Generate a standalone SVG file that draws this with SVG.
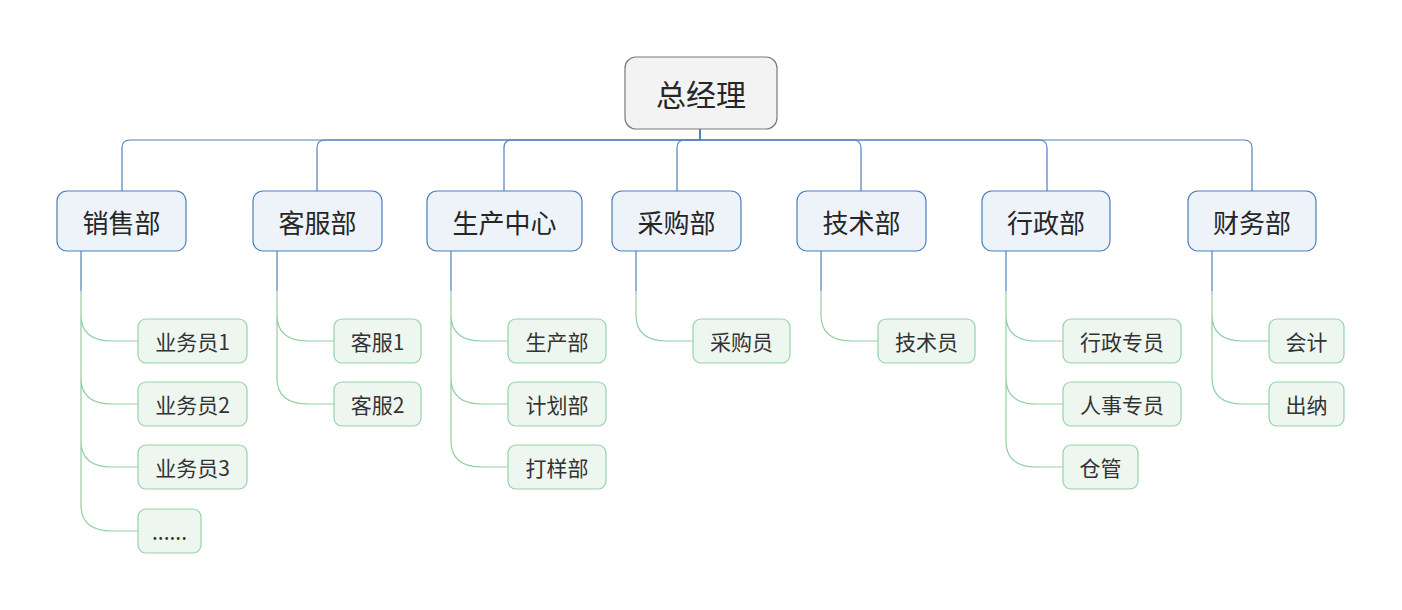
<svg xmlns="http://www.w3.org/2000/svg" width="1402" height="610" viewBox="0 0 1402 610">
<style>
text{font-family:"Noto Sans CJK SC","Microsoft YaHei",sans-serif;text-anchor:middle;dominant-baseline:central;fill:#262626}
.root rect{fill:#f3f3f3;stroke:#7a7a7a;stroke-width:1.2}
.root text{font-size:30px}
.l1 rect{fill:#eef3fa;stroke:#4a7ebb;stroke-width:1.2}
.l1 text{font-size:26px}
.l2 rect{fill:#eef6f0;stroke:#96d2a9;stroke-width:1.2}
.l2 text{font-size:21px;fill:#333}
.bl{fill:none;stroke:#4f81bd;stroke-width:1.2}
.gl{fill:none;stroke:#93cfa4;stroke-width:1.2}
</style>
<rect width="1402" height="610" fill="#fff"/>
<g id="connectors">
<path class="bl" d="M700,129V140H130Q122,140 122,148V191"/>
<path class="bl" d="M700,129V140H325Q317,140 317,148V191"/>
<path class="bl" d="M700,129V140H512Q504,140 504,148V191"/>
<path class="bl" d="M700,129V140H685Q677,140 677,148V191"/>
<path class="bl" d="M700,129V140H853Q861,140 861,148V191"/>
<path class="bl" d="M700,129V140H1039Q1047,140 1047,148V191"/>
<path class="bl" d="M700,129V140H1244Q1252,140 1252,148V191"/>
<path class="bl" d="M81,251V291M277,251V291M451,251V291M636,251V291M821,251V291M1006,251V291M1212,251V291"/>
<path class="gl" d="M81,291V315C81,331 90,341 112,341H138M81,291V378C81,394 90,404 112,404H138M81,291V441C81,457 90,467 112,467H138M81,291V505C81,521 90,531 112,531H138"/>
<path class="gl" d="M277,291V315C277,331 286,341 308,341H334M277,291V378C277,394 286,404 308,404H334"/>
<path class="gl" d="M451,291V315C451,331 460,341 482,341H508M451,291V378C451,394 460,404 482,404H508M451,291V441C451,457 460,467 482,467H508"/>
<path class="gl" d="M636,291V315C636,331 645,341 667,341H693"/>
<path class="gl" d="M821,291V315C821,331 830,341 852,341H878"/>
<path class="gl" d="M1006,291V315C1006,331 1015,341 1037,341H1063M1006,291V378C1006,394 1015,404 1037,404H1063M1006,291V441C1006,457 1015,467 1037,467H1063"/>
<path class="gl" d="M1212,291V315C1212,331 1221,341 1243,341H1269M1212,291V378C1212,394 1221,404 1243,404H1269"/>
</g>
<g id="root" class="root"><rect x="625" y="57" width="152" height="72" rx="11"/><text x="701" y="93">总经理</text></g>
<g id="xiaoshou" class="l1"><rect x="57" y="191" width="129" height="60" rx="10"/><text x="121.5" y="221">销售部</text></g>
<g id="kefu" class="l1"><rect x="253" y="191" width="129" height="60" rx="10"/><text x="317.5" y="221">客服部</text></g>
<g id="shengchan" class="l1"><rect x="427" y="191" width="155" height="60" rx="10"/><text x="504.5" y="221">生产中心</text></g>
<g id="caigou" class="l1"><rect x="612" y="191" width="129" height="60" rx="10"/><text x="676.5" y="221">采购部</text></g>
<g id="jishu" class="l1"><rect x="797" y="191" width="129" height="60" rx="10"/><text x="861.5" y="221">技术部</text></g>
<g id="xingzheng" class="l1"><rect x="982" y="191" width="128" height="60" rx="10"/><text x="1046" y="221">行政部</text></g>
<g id="caiwu" class="l1"><rect x="1188" y="191" width="128" height="60" rx="10"/><text x="1252" y="221">财务部</text></g>
<g id="ywy1" class="l2"><rect x="138" y="319" width="109" height="44" rx="8"/><text x="192.5" y="341">业务员1</text></g>
<g id="ywy2" class="l2"><rect x="138" y="382" width="109" height="44" rx="8"/><text x="192.5" y="404">业务员2</text></g>
<g id="ywy3" class="l2"><rect x="138" y="445" width="109" height="44" rx="8"/><text x="192.5" y="467">业务员3</text></g>
<g id="more" class="l2"><rect x="138" y="509" width="63" height="44" rx="8"/><text x="169.5" y="531">......</text></g>
<g id="kf1" class="l2"><rect x="334" y="319" width="87" height="44" rx="8"/><text x="377.5" y="341">客服1</text></g>
<g id="kf2" class="l2"><rect x="334" y="382" width="87" height="44" rx="8"/><text x="377.5" y="404">客服2</text></g>
<g id="scb" class="l2"><rect x="508" y="319" width="98" height="44" rx="8"/><text x="557" y="341">生产部</text></g>
<g id="jhb" class="l2"><rect x="508" y="382" width="98" height="44" rx="8"/><text x="557" y="404">计划部</text></g>
<g id="dyb" class="l2"><rect x="508" y="445" width="98" height="44" rx="8"/><text x="557" y="467">打样部</text></g>
<g id="cgy" class="l2"><rect x="693" y="319" width="97" height="44" rx="8"/><text x="741.5" y="341">采购员</text></g>
<g id="jsy" class="l2"><rect x="878" y="319" width="97" height="44" rx="8"/><text x="926.5" y="341">技术员</text></g>
<g id="xzzy" class="l2"><rect x="1063" y="319" width="118" height="44" rx="8"/><text x="1122" y="341">行政专员</text></g>
<g id="rszy" class="l2"><rect x="1063" y="382" width="118" height="44" rx="8"/><text x="1122" y="404">人事专员</text></g>
<g id="cg" class="l2"><rect x="1063" y="445" width="75" height="44" rx="8"/><text x="1100.5" y="467">仓管</text></g>
<g id="kj" class="l2"><rect x="1269" y="319" width="75" height="44" rx="8"/><text x="1306.5" y="341">会计</text></g>
<g id="cn" class="l2"><rect x="1269" y="382" width="75" height="44" rx="8"/><text x="1306.5" y="404">出纳</text></g>
</svg>
